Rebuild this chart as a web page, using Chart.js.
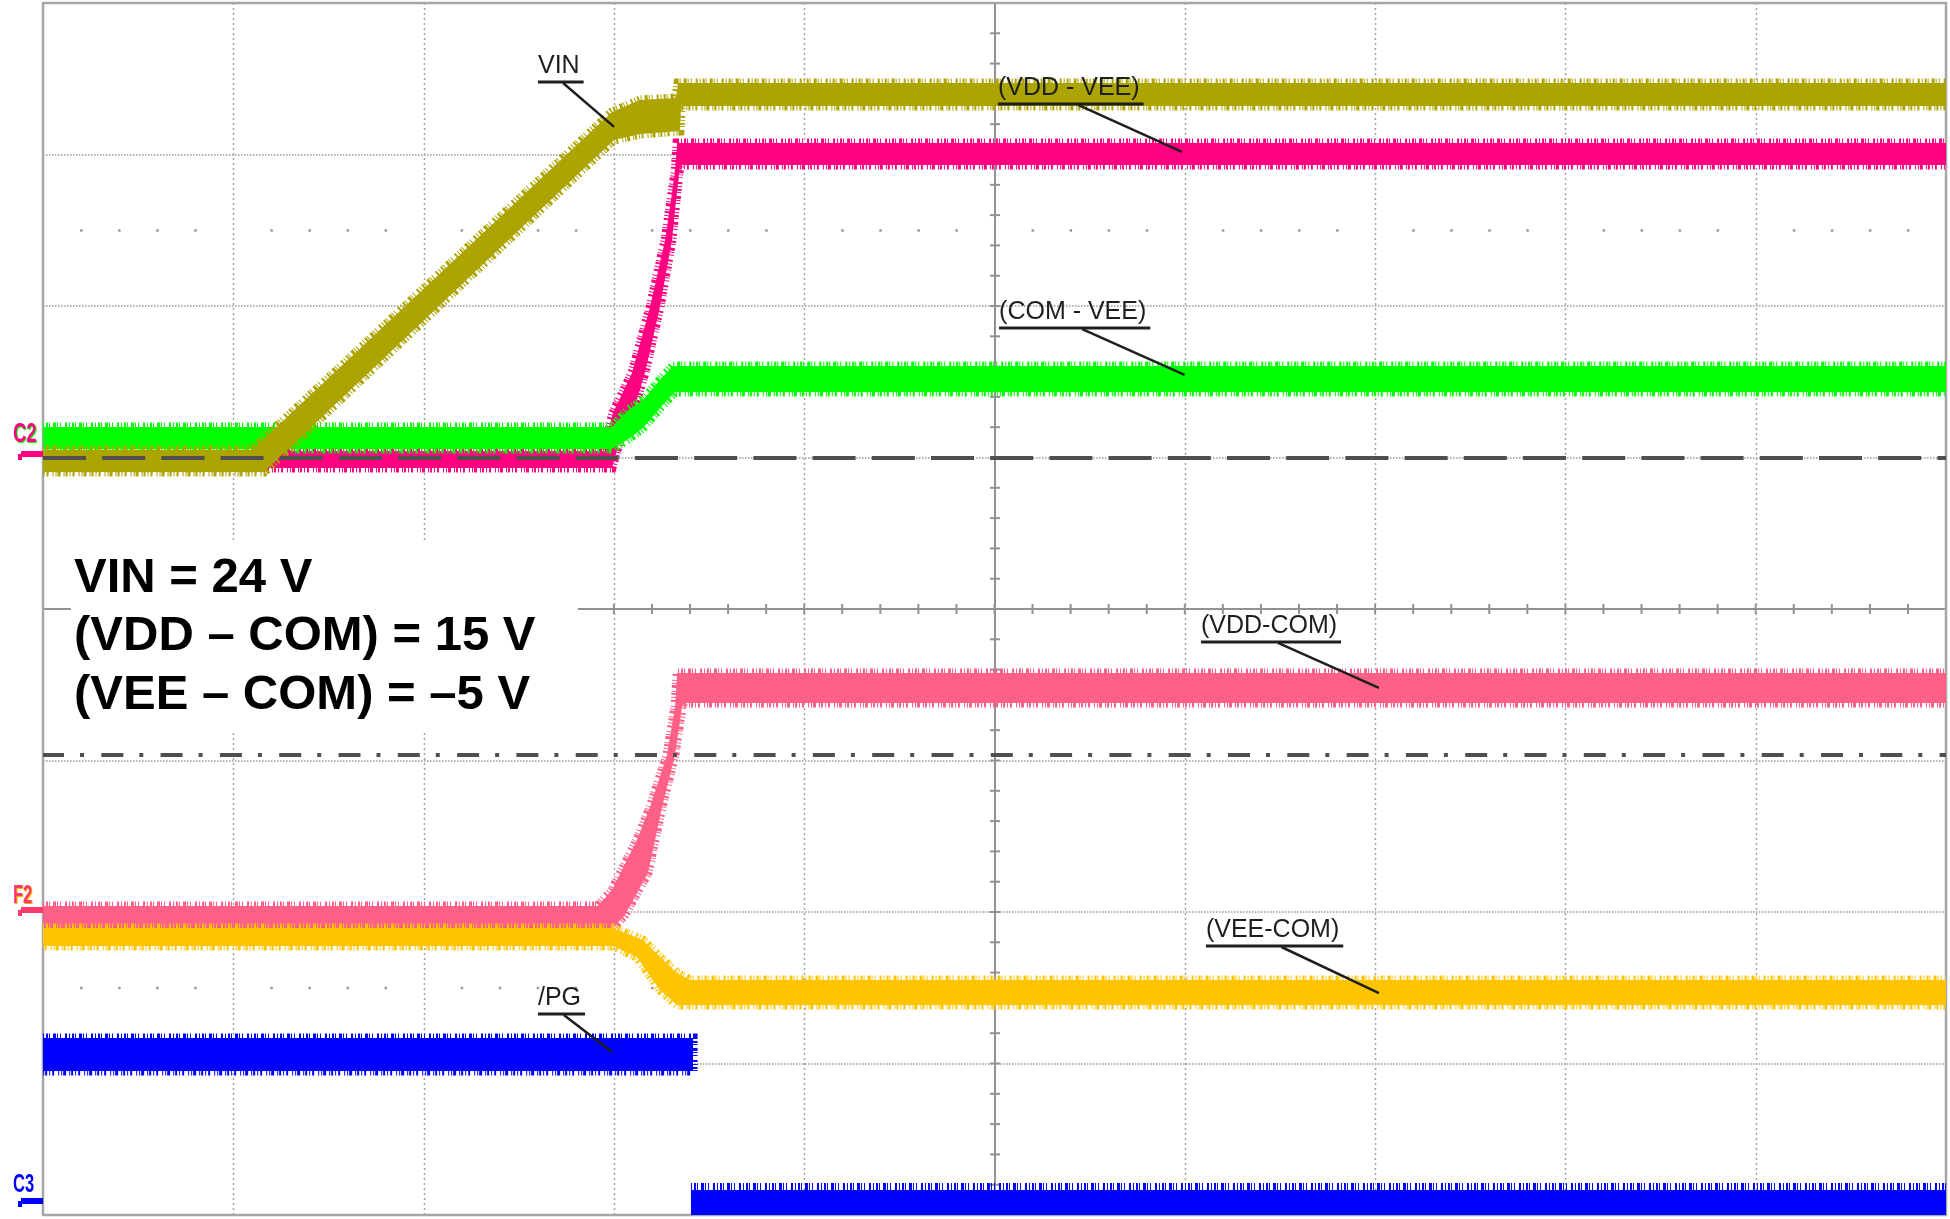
<!DOCTYPE html>
<html lang="en">
<head>
<meta charset="utf-8">
<title>Start-up: VIN, (VDD - VEE), (COM - VEE), (VDD-COM), (VEE-COM), /PG</title>
<script src="https://cdn.jsdelivr.net/npm/chart.js@4.4.1/dist/chart.umd.min.js"></script>
<style>
  html, body { margin: 0; padding: 0; background: #ffffff; }
  #scope { display: block; }
</style>
</head>
<body>
<canvas id="scope" width="1950" height="1219"></canvas>
<script>
// Scope screen = 10 x 8 divisions. Every value is in divisions:
// time from the left edge, level from the bottom edge.
// The traces are noisy bands, so each one is kept as its upper and lower envelope.

const vinUpper = [[0, 5.05], [1.098, 5.05], [2.99, 7.281], [3.137, 7.36], [3.326, 7.373], [3.337, 7.472], [10, 7.472]];
const vinLower = [[0, 4.904], [1.161, 4.904], [3.0, 7.096], [3.137, 7.135], [3.347, 7.155], [3.353, 7.32], [10, 7.32]];

const vddVeeUpper = [[0, 5.043], [2.953, 5.043], [2.975, 5.2], [2.995, 5.294], [3.095, 5.558], [3.19, 5.993], [3.269, 6.436], [3.321, 6.878], [3.332, 7.076], [10, 7.076]];
const vddVeeLower = [[0, 4.931], [2.99, 4.931], [3.032, 5.116], [3.1, 5.294], [3.163, 5.558], [3.242, 5.993], [3.305, 6.436], [3.342, 6.878], [3.347, 6.931], [10, 6.931]];

const comVeeUpper = [[0, 5.201], [2.99, 5.201], [3.069, 5.307], [3.153, 5.38], [3.242, 5.512], [3.31, 5.604], [10, 5.604]];
const comVeeLower = [[0, 5.056], [2.99, 5.056], [3.069, 5.116], [3.153, 5.195], [3.242, 5.327], [3.321, 5.432], [10, 5.432]];

const vddComUpper = [[0, 2.04], [2.916, 2.04], [2.99, 2.145], [3.121, 2.475], [3.19, 2.693], [3.279, 3.036], [3.321, 3.353], [3.332, 3.578], [10, 3.578]];
const vddComLower = [[0, 1.835], [2.95, 1.835], [3.058, 1.98], [3.179, 2.257], [3.253, 2.693], [3.321, 3.036], [3.358, 3.353], [3.368, 3.38], [10, 3.38]];

const veeComUpper = [[0, 1.894], [2.995, 1.894], [3.153, 1.815], [3.242, 1.703], [3.332, 1.597], [3.4, 1.551], [10, 1.551]];
const veeComLower = [[0, 1.775], [2.995, 1.775], [3.121, 1.703], [3.242, 1.485], [3.332, 1.386], [10, 1.386]];

const pgHighUpper = [[0, 1.168], [3.416, 1.168]];
const pgHighLower = [[0, 0.95], [3.416, 0.95]];
const pgLowUpper = [[3.405, 0.165], [10, 0.165]];
const pgLowLower = [[3.405, -0.05], [10, -0.05]];

// reference markers on the screen
const dashedLevel = 4.997;
const dashDotLevel = 3.036;

const traceLabels = [
  { text: 'VIN', at: [2.601, 7.538], tip: [3.001, 7.182] },
  { text: '(VDD - VEE)', at: [5.018, 7.393], tip: [5.985, 7.017] },
  { text: '(COM - VEE)', at: [5.024, 5.914], tip: [5.999, 5.545] },
  { text: '(VDD-COM)', at: [6.085, 3.842], tip: [7.02, 3.479] },
  { text: '(VEE-COM)', at: [6.111, 1.835], tip: [7.02, 1.465] },
  { text: '/PG', at: [2.601, 1.386], tip: [2.99, 1.076] }
];

const channelMarks = [
  { text: 'C2', level: 4.997, color: '#ff0080', shadow: '#00ff00', lift: 16, size: 28 },
  { text: 'F2', level: 1.987, color: '#ff3a6a', shadow: '#ffb000', lift: 11, size: 25 },
  { text: 'C3', level: 0.066, color: '#0000ff', shadow: null, lift: 13, size: 25 }
];

const noteLines = ['VIN = 24 V', '(VDD \u2013 COM) = 15 V', '(VEE \u2013 COM) = \u20135 V'];

const traces = [
  { label: 'VIN', upper: vinUpper, lower: vinLower, color: '#aca400' },
  { label: '(COM - VEE)', upper: comVeeUpper, lower: comVeeLower, color: '#00ff00' },
  { label: '(VDD - VEE)', upper: vddVeeUpper, lower: vddVeeLower, color: '#ff0080' },
  { label: '(VEE-COM)', upper: veeComUpper, lower: veeComLower, color: '#ffc400' },
  { label: '(VDD-COM)', upper: vddComUpper, lower: vddComLower, color: '#ff6088' },
  { label: '/PG', upper: pgHighUpper, lower: pgHighLower, color: '#0000ff' },
  { label: '/PG', upper: pgLowUpper, lower: pgLowLower, color: '#0000ff', fringe: 14 }
];

// upper envelope left to right, then lower envelope back: one closed shape per band
const band = (upper, lower) => upper.concat(lower.slice().reverse()).map(([x, y]) => ({ x, y }));

function strokeLine(ctx, x1, y1, x2, y2) {
  ctx.beginPath();
  ctx.moveTo(x1, y1);
  ctx.lineTo(x2, y2);
  ctx.stroke();
}

const scopeScreen = {
  id: 'scopeScreen',
  beforeDatasetsDraw(chart) {
    const { ctx, chartArea: a, scales: { x, y } } = chart;
    ctx.save();

    // dotted division lines
    ctx.strokeStyle = '#a2a2a2';
    ctx.lineWidth = 1.5;
    ctx.setLineDash([2, 3]);
    for (let i = 1; i < 10; i++) {
      if (i === 5) continue;
      const px = Math.round(x.getPixelForValue(i)) + 0.5;
      strokeLine(ctx, px, a.top, px, a.bottom);
    }
    ctx.strokeStyle = '#b2b2b2';
    ctx.lineWidth = 2;
    ctx.setLineDash([1.5, 1.5]);
    for (let j = 1; j < 8; j++) {
      if (j === 4) continue;
      const py = Math.round(y.getPixelForValue(j));
      strokeLine(ctx, a.left, py, a.right, py);
    }
    ctx.setLineDash([]);

    // sparse rows of sub-division dots
    ctx.fillStyle = '#9a9a9a';
    [1.5, 6.5].forEach(v => {
      const py = y.getPixelForValue(v);
      for (let k = 1; k < 50; k++) {
        if (k % 5 === 0) continue;
        ctx.fillRect(x.getPixelForValue(k / 5) - 1, py - 1, 2.5, 2.5);
      }
    });

    // centre axes with sub-division ticks
    ctx.strokeStyle = '#929292';
    ctx.lineWidth = 2;
    const cx = Math.round(x.getPixelForValue(5));
    const cy = Math.round(y.getPixelForValue(4));
    strokeLine(ctx, cx, a.top, cx, a.bottom);
    strokeLine(ctx, a.left, cy, a.right, cy);
    for (let k = 1; k < 40; k++) {
      const py = y.getPixelForValue(k / 5);
      strokeLine(ctx, cx - 5, py, cx + 5, py);
    }
    for (let k = 1; k < 50; k++) {
      const px = x.getPixelForValue(k / 5);
      strokeLine(ctx, px, cy - 5, px, cy + 5);
    }

    // screen frame
    ctx.strokeStyle = '#a6a6a6';
    ctx.lineWidth = 2.5;
    ctx.strokeRect(a.left, a.top, a.right - a.left, a.bottom - a.top);
    ctx.restore();
  },
  afterDatasetsDraw(chart) {
    const { ctx, chartArea: a, scales: { x, y } } = chart;
    ctx.save();

    // ground reference (dashed) and the F2 threshold (dash-dot)
    ctx.strokeStyle = '#4f4f4f';
    ctx.lineWidth = 4;
    ctx.setLineDash([43, 16.2]);
    let py = y.getPixelForValue(dashedLevel);
    strokeLine(ctx, a.left, py, a.right, py);
    ctx.setLineDash([22, 16, 4, 17.3]);
    ctx.lineDashOffset = 1;
    py = y.getPixelForValue(dashDotLevel);
    strokeLine(ctx, a.left, py, a.right, py);
    ctx.setLineDash([]);
    ctx.lineDashOffset = 0;

    // white note box with the operating point
    const bx1 = x.getPixelForValue(0.147), bx2 = x.getPixelForValue(2.811);
    const by1 = y.getPixelForValue(4.436), by2 = y.getPixelForValue(3.182);
    ctx.fillStyle = '#ffffff';
    ctx.fillRect(bx1, by1, bx2 - bx1, by2 - by1);
    ctx.fillStyle = '#000000';
    ctx.font = 'bold 49px "Liberation Sans", Arial, sans-serif';
    ctx.textBaseline = 'alphabetic';
    const baselines = [4.112, 3.729, 3.34];
    noteLines.forEach((line, i) => {
      ctx.fillText(line, x.getPixelForValue(0.163), y.getPixelForValue(baselines[i]));
    });

    // trace names with underline and leader
    ctx.font = '25px "Liberation Sans", Arial, sans-serif';
    ctx.strokeStyle = '#1e1e1e';
    traceLabels.forEach(l => {
      const tx = x.getPixelForValue(l.at[0]);
      const ty = y.getPixelForValue(l.at[1]);
      const w = ctx.measureText(l.text).width;
      ctx.fillStyle = '#1e1e1e';
      ctx.fillText(l.text, tx, ty);
      ctx.lineWidth = 3;
      strokeLine(ctx, tx, ty + 9, tx + w + 4, ty + 9);
      ctx.lineWidth = 2.5;
      const sx = tx + (w + 4) * 0.55;
      strokeLine(ctx, sx, ty + 10, x.getPixelForValue(l.tip[0]), y.getPixelForValue(l.tip[1]));
    });

    // channel tags in the left margin
    channelMarks.forEach(m => {
      const my = Math.round(y.getPixelForValue(m.level));
      ctx.font = 'bold ' + m.size + 'px "Liberation Sans", Arial, sans-serif';
      if (m.shadow) {
        ctx.fillStyle = m.shadow;
        ctx.save();
        ctx.translate(14, my - m.lift + 1);
        ctx.scale(0.66, 1);
        ctx.fillText(m.text, 0, 0);
        ctx.restore();
      }
      ctx.fillStyle = m.color;
      ctx.save();
      ctx.translate(13, my - m.lift);
      ctx.scale(0.66, 1);
      ctx.fillText(m.text, 0, 0);
      ctx.restore();
      ctx.fillRect(21, my - 7, a.left - 21, 6);
      ctx.fillRect(18, my - 4, 4, 6);
    });
    ctx.restore();
  }
};

new Chart(document.getElementById('scope'), {
  type: 'scatter',
  data: {
    datasets: traces.map(t => ({
      label: t.label,
      data: band(t.upper, t.lower),
      showLine: true,
      fill: 'shape',
      backgroundColor: t.color,
      borderColor: t.color,
      borderWidth: t.fringe || 9,
      borderDash: [1, 2, 2, 1, 1, 3, 3, 1, 1, 2, 1, 4, 2, 2],
      pointRadius: 0,
      pointHoverRadius: 0,
      clip: 0
    }))
  },
  options: {
    responsive: false,
    devicePixelRatio: 1,
    animation: false,
    events: [],
    layout: { padding: { left: 43, top: 3, right: 4, bottom: 4 } },
    scales: {
      x: { type: 'linear', min: 0, max: 10, display: false },
      y: { type: 'linear', min: 0, max: 8, display: false }
    },
    plugins: {
      legend: { display: false },
      tooltip: { enabled: false }
    }
  },
  plugins: [scopeScreen]
});
</script>
</body>
</html>
